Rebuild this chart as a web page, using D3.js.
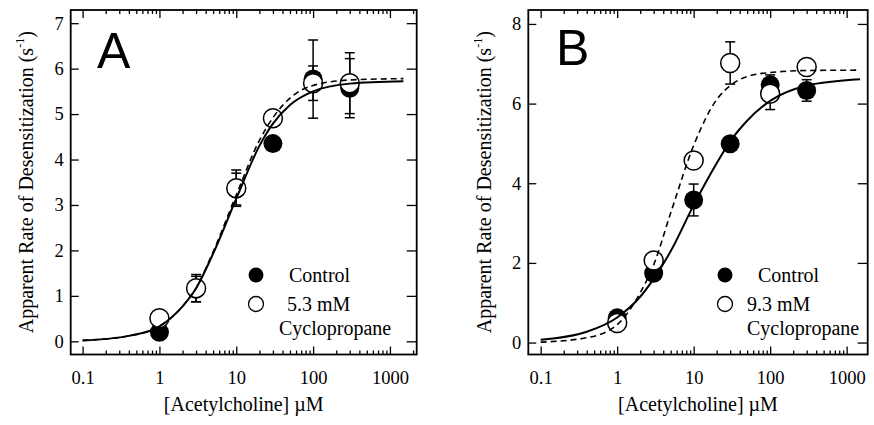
<!DOCTYPE html>
<html>
<head>
<meta charset="utf-8">
<script src="https://cdn.jsdelivr.net/npm/d3@7"></script>
<style>
  body { margin: 0; background: #fff; }
  svg { display: block; }
</style>
</head>
<body>
<div id="chart"></div>
<script>
// Acetylcholine concentrations (uM) of the measured points
const concA = [1, 3, 10, 30, 100, 300];
const concB = [1, 3, 10, 30, 100, 300];

// Panel A: measured rates (s^-1) and error bars
const controlA = [0.2, 1.15, 3.35, 4.35, 5.77, 5.57];
const controlErrA = [0, 0.28, 0.35, 0, 0.86, 0.65];
const cycloA = [0.51, 1.17, 3.37, 4.91, 5.68, 5.68];
const cycloErrA = [0, 0.3, 0.4, 0, 0.38, 0.67];

// Panel B: measured rates (s^-1) and error bars
const controlB = [0.62, 1.74, 3.58, 4.99, 6.47, 6.33];
const controlErrB = [0, 0.15, 0.4, 0.15, 0.25, 0.27];
const cycloB = [0.49, 2.06, 4.57, 7.02, 6.25, 6.92];
const cycloErrB = [0, 0, 0, 0.53, 0.4, 0];

const fitX = [0.1, 0.4, 1, 2, 3, 5, 10, 20, 30, 50, 100, 300, 1500];
const fitControlA = [0.02, 0.12, 0.33, 0.77, 1.17, 1.93, 3.14, 4.3, 4.79, 5.2, 5.5, 5.67, 5.72];
const fitCycloA = [0.02, 0.12, 0.33, 0.77, 1.17, 1.97, 3.22, 4.42, 4.92, 5.35, 5.63, 5.75, 5.78];
const fitControlB = [0.07, 0.27, 0.63, 1.15, 1.6, 2.29, 3.45, 4.5, 5.05, 5.57, 6.07, 6.45, 6.61];
const fitCycloB = [0.01, 0.12, 0.45, 1.25, 1.95, 3.25, 4.95, 6.1, 6.45, 6.68, 6.78, 6.83, 6.84];

// Tick labels
const xTicks = [0.1, 1, 10, 100, 1000];
const yTicksA = [0, 1, 2, 3, 4, 5, 6, 7];
const yTicksB = [0, 2, 4, 6, 8];

const serif = "'Liberation Serif', 'Times New Roman', serif";

const svg = d3.select("#chart")
    .append("svg")
    .attr("width", 874)
    .attr("height", 425);

// minor log ticks 2..9 in each decade
let xMinor = [];
[0.1, 1, 10, 100, 1000].forEach(k => {
    for (let m = 2; m <= 9; m++) xMinor.push(k * m);
});

function drawPanel(p) {
    const g = svg.append("g");

    const x = d3.scaleLog().domain(p.xDomain).range([p.left, p.right]);
    const y = d3.scaleLinear().domain(p.yDomain).range([p.bottom, p.top]);
    const minor = xMinor.filter(d => d < p.xDomain[1]);

    // Axes (ticks point inward)
    function style(sel) {
        sel.select(".domain").remove();
        sel.attr("font-family", serif).attr("font-size", 18.5);
        sel.selectAll("line").attr("stroke-width", 1.3);
        sel.selectAll("text").attr("fill", "#000");
    }
    g.append("g")
        .attr("transform", "translate(0," + p.bottom + ")")
        .call(d3.axisBottom(x).tickValues(xTicks).tickFormat(d => String(d)).tickSize(-8).tickPadding(16))
        .call(style);
    g.append("g")
        .attr("transform", "translate(0," + p.bottom + ")")
        .call(d3.axisBottom(x).tickValues(minor).tickFormat("").tickSize(-4))
        .call(style);
    g.append("g")
        .attr("transform", "translate(0," + p.top + ")")
        .call(d3.axisTop(x).tickValues(xTicks).tickFormat("").tickSize(-8))
        .call(style);
    g.append("g")
        .attr("transform", "translate(0," + p.top + ")")
        .call(d3.axisTop(x).tickValues(minor).tickFormat("").tickSize(-4))
        .call(style);
    g.append("g")
        .attr("transform", "translate(" + p.left + ",0)")
        .call(d3.axisLeft(y).tickValues(p.yTicks).tickSize(-8).tickPadding(7))
        .call(style);
    g.append("g")
        .attr("transform", "translate(" + p.right + ",0)")
        .call(d3.axisRight(y).tickValues(p.yTicks).tickFormat("").tickSize(-10))
        .call(style);

    // Frame
    g.append("rect")
        .attr("x", p.left)
        .attr("y", p.top)
        .attr("width", p.right - p.left)
        .attr("height", p.bottom - p.top)
        .attr("fill", "none")
        .attr("stroke", "#000")
        .attr("stroke-width", 1.8);

    // Error bars
    const series = [
        { vals: p.control, errs: p.controlErr },
        { vals: p.cyclo, errs: p.cycloErr }
    ];
    series.forEach(s => {
        const pts = p.conc.map((c, i) => ({ c: c, v: s.vals[i], e: s.errs[i] })).filter(d => d.e > 0);
        const eb = g.append("g").attr("stroke", "#000").attr("stroke-width", 1.5);
        eb.selectAll(".v").data(pts).enter().append("line")
            .attr("x1", d => x(d.c)).attr("x2", d => x(d.c))
            .attr("y1", d => y(d.v - d.e)).attr("y2", d => y(d.v + d.e));
        eb.selectAll(".t").data(pts).enter().append("line")
            .attr("x1", d => x(d.c) - 5).attr("x2", d => x(d.c) + 5)
            .attr("y1", d => y(d.v + d.e)).attr("y2", d => y(d.v + d.e));
        eb.selectAll(".b").data(pts).enter().append("line")
            .attr("x1", d => x(d.c) - 5).attr("x2", d => x(d.c) + 5)
            .attr("y1", d => y(d.v - d.e)).attr("y2", d => y(d.v - d.e));
    });

    // Points
    g.append("g").selectAll("circle")
        .data(p.conc.map((c, i) => [c, p.control[i]]))
        .enter().append("circle")
        .attr("cx", d => x(d[0])).attr("cy", d => y(d[1]))
        .attr("r", 9.5)
        .attr("fill", "#000");
    g.append("g").selectAll("circle")
        .data(p.conc.map((c, i) => [c, p.cyclo[i]]))
        .enter().append("circle")
        .attr("cx", d => x(d[0])).attr("cy", d => y(d[1]))
        .attr("r", 9.5)
        .attr("fill", "#fff")
        .attr("stroke", "#000")
        .attr("stroke-width", 1.5);

    // Fitted curves
    const line = d3.line()
        .x(d => x(d[0]))
        .y(d => y(d[1]))
        .curve(d3.curveMonotoneX);
    g.append("path")
        .datum(fitX.map((c, i) => [c, p.fitControl[i]]))
        .attr("d", line)
        .attr("fill", "none")
        .attr("stroke", "#000")
        .attr("stroke-width", 2);
    g.append("path")
        .datum(fitX.map((c, i) => [c, p.fitCyclo[i]]))
        .attr("d", line)
        .attr("fill", "none")
        .attr("stroke", "#000")
        .attr("stroke-width", 1.6)
        .attr("stroke-dasharray", "6,4");

    // Panel letter
    g.append("text")
        .attr("x", p.letterX)
        .attr("y", p.letterY)
        .attr("font-family", "'Liberation Sans', Arial, sans-serif")
        .attr("font-size", 50)
        .text(p.letter);

    // Legend
    g.append("circle")
        .attr("cx", p.legX).attr("cy", 275).attr("r", 7.5)
        .attr("fill", "#000");
    g.append("circle")
        .attr("cx", p.legX).attr("cy", 304).attr("r", 7.5)
        .attr("fill", "#fff").attr("stroke", "#000").attr("stroke-width", 1.3);
    const leg = g.append("g").attr("font-family", serif).attr("font-size", 20);
    leg.append("text").attr("x", p.legX + 33).attr("y", 281.5).text("Control");
    leg.append("text").attr("x", p.legX + p.concDx).attr("y", 310.5).text(p.cycloLabel);
    leg.append("text").attr("x", p.legX + p.cycloDx).attr("y", 335).text("Cyclopropane");

    // Axis titles
    g.append("text")
        .attr("x", (p.left + p.right) / 2)
        .attr("y", 411)
        .attr("text-anchor", "middle")
        .attr("font-family", serif)
        .attr("font-size", 20)
        .text("[Acetylcholine] \u00b5M");

    const yl = g.append("text")
        .attr("transform", "translate(" + p.yLabelX + "," + (p.top + p.bottom) / 2 + ") rotate(-90)")
        .attr("text-anchor", "middle")
        .attr("font-family", serif)
        .attr("font-size", 20);
    yl.append("tspan").text("Apparent Rate of Desensitization (s");
    yl.append("tspan").attr("font-size", 12).attr("dy", -9).text("-1");
    yl.append("tspan").attr("dy", 9).text(")");
}

drawPanel({
    letter: "A",
    left: 70.7, right: 416.7, top: 10, bottom: 354.5,
    xDomain: [0.07, 2230], yDomain: [-0.29, 7.29], yTicks: yTicksA,
    conc: concA,
    control: controlA, controlErr: controlErrA,
    cyclo: cycloA, cycloErr: cycloErrA,
    fitControl: fitControlA, fitCyclo: fitCycloA,
    letterX: 97, letterY: 68,
    legX: 256, concDx: 31, cycloDx: 23, cycloLabel: "5.3 mM",
    yLabelX: 33
});

drawPanel({
    letter: "B",
    left: 528.3, right: 867.7, top: 10, bottom: 354.5,
    xDomain: [0.0689, 1884], yDomain: [-0.3, 8.35], yTicks: yTicksB,
    conc: concB,
    control: controlB, controlErr: controlErrB,
    cyclo: cycloB, cycloErr: cycloErrB,
    fitControl: fitControlB, fitCyclo: fitCycloB,
    letterX: 556, letterY: 65,
    legX: 725, concDx: 22, cycloDx: 22, cycloLabel: "9.3 mM",
    yLabelX: 491
});
</script>
</body>
</html>
